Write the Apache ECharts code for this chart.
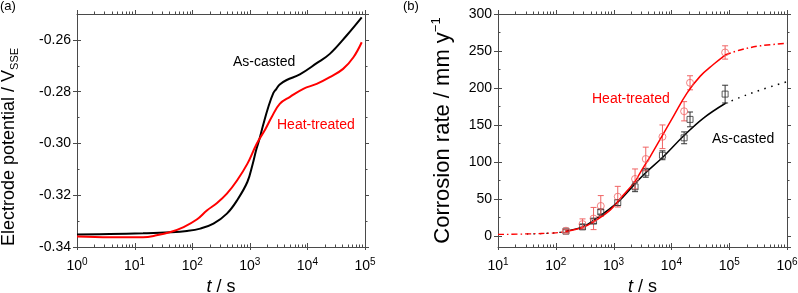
<!DOCTYPE html>
<html><head><meta charset="utf-8">
<script src="https://cdn.jsdelivr.net/npm/echarts@6/dist/echarts.min.js"></script>
<style>html,body{margin:0;padding:0;background:#fff}#c{width:798px;height:293px}</style>
</head><body><div id="c"></div>
<script>
// ---------- Panel (a): electrode potential vs time ----------
const tA_cast = [1, 3.7, 14, 42, 81, 138, 234, 400, 600, 910, 1120, 1290, 1450, 1700, 2090, 2570, 2880, 3310, 4370, 7400, 14500, 24500, 48000, 87700];
const vA_cast = [-0.3352, -0.3350, -0.3347, -0.3343, -0.3338, -0.3329, -0.3310, -0.3271, -0.3220, -0.3148, -0.3080, -0.3025, -0.2988, -0.2930, -0.2860, -0.2805, -0.2790, -0.2772, -0.2755, -0.2733, -0.2690, -0.2654, -0.2583, -0.2513];
const tA_heat = [1, 3.7, 14, 24, 42, 71, 120, 182, 270, 400, 600, 910, 1320, 1860, 2400, 3310, 5000, 8500, 14500, 24500, 41700, 63000, 87700];
const vA_heat = [-0.3359, -0.3362, -0.3362, -0.3355, -0.3342, -0.3323, -0.3294, -0.3258, -0.3230, -0.3194, -0.3143, -0.3078, -0.3001, -0.2945, -0.2898, -0.2847, -0.2820, -0.2789, -0.2770, -0.2744, -0.2712, -0.2667, -0.2609];

// ---------- Panel (b): corrosion rate vs time ----------
const tB = [150, 290, 450, 600, 1180, 2350, 3600, 7000, 16600, 21000, 85000];
const rateCast = [6.4, 12.2, 20, 32.5, 45, 66.3, 85.3, 109, 132.6, 157.5, 191.7];
const errCast  = [2, 3, 3, 3, 4, 6.5, 6, 6, 8, 10, 12];
const rateHeat = [7, 16, 23.5, 40.5, 53, 77, 104, 134, 168.5, 207, 248];
const errHeat  = [2, 7, 15, 14, 14, 13.5, 16, 16, 13, 9.5, 9];

const fitHeatLowT  = [10, 31.6, 100, 150];
const fitHeatLow   = [2.0, 2.7, 4.2, 6.0];
const fitHeatT     = [150, 290, 450, 870, 1160, 2320, 2860, 3550, 4270, 6760, 10700, 18600, 31600, 53700, 85000];
const fitHeat      = [6.0, 11.4, 18.9, 34.8, 46, 73, 85, 97, 107, 134, 161, 193, 216, 232, 244.5];
const fitHeatHighT = [85000, 155000, 347000, 1000000];
const fitHeatHigh  = [244.5, 251.3, 257, 260.3];

const fitCastLowT  = [31.6, 100, 150];
const fitCastLow   = [2.6, 4.2, 6.4];
const fitCastT     = [150, 290, 450, 1160, 2320, 3550, 7240, 16200, 35500, 85000];
const fitCast      = [6.4, 12.2, 21, 45, 70, 85, 107, 135, 159, 179];
const fitCastHighT = [85000, 155000, 347000, 1000000];
const fitCastHigh  = [179, 187.3, 197.2, 208.4];

// ---------- styling ----------
const FONT = 'Liberation Sans, Arial, Helvetica, sans-serif';
const AX = '#4a4a4a';
const RED = '#ff0000';
const RED_PT = '#f06464';
const BLK_PT = '#333333';

const zip = (a, b) => a.map((x, i) => [x, b[i]]);
const supLabel = v => '10{s|' + Math.round(Math.log10(v)) + '}';
const tickRich = { s: { fontSize: 10, fontFamily: FONT, color: '#000', padding: [0, 0, 9, 0] } };

function logTickData(lo, hi) {
  const out = [];
  for (let e = lo; e < hi; e++) for (let m = 1; m < 10; m++) out.push([m * Math.pow(10, e), m === 1 ? 1 : 0]);
  out.push([Math.pow(10, hi), 1]);
  return out;
}
function tickSeries(xi, yi, lo, hi, yRef) {
  return {
    type: 'custom', xAxisIndex: xi, yAxisIndex: yi, silent: true, z: 10,
    data: logTickData(lo, hi),
    renderItem: (params, api) => {
      const cs = params.coordSys;
      const x = Math.round(api.coord([api.value(0), yRef])[0]) + 0.5;
      const major = api.value(1) === 1;
      const yb = cs.y + cs.height, yt = cs.y;
      const st = { stroke: AX, lineWidth: 1 };
      return { type: 'group', children: [
        { type: 'line', shape: { x1: x, y1: major ? yb + 3 : yb, x2: x, y2: yb - (major ? 4 : 2.5) }, style: st },
        { type: 'line', shape: { x1: x, y1: yt, x2: x, y2: yt - (major ? 4 : 2.5) }, style: st }
      ] };
    }
  };
}
function errSeries(xi, yi, t, v, e, color) {
  return {
    type: 'custom', xAxisIndex: xi, yAxisIndex: yi, z: 3,
    data: t.map((x, i) => [x, v[i] - e[i], v[i] + e[i]]),
    encode: { x: 0, y: [1, 2] },
    renderItem: (params, api) => {
      const lo = api.coord([api.value(0), api.value(1)]);
      const hi = api.coord([api.value(0), api.value(2)]);
      const w = 3, st = { stroke: color, lineWidth: 1 };
      return { type: 'group', children: [
        { type: 'line', shape: { x1: lo[0], y1: lo[1], x2: hi[0], y2: hi[1] }, style: st },
        { type: 'line', shape: { x1: lo[0] - w, y1: lo[1], x2: lo[0] + w, y2: lo[1] }, style: st },
        { type: 'line', shape: { x1: hi[0] - w, y1: hi[1], x2: hi[0] + w, y2: hi[1] }, style: st }
      ] };
    }
  };
}
function xAxes(grid, min, max) {
  return [
    { type: 'log', logBase: 10, gridIndex: grid, position: 'bottom', min, max,
      axisLine: { onZero: false, lineStyle: { color: AX } }, axisTick: { show: false }, splitLine: { show: false },
      axisLabel: { formatter: supLabel, rich: tickRich, color: '#000', fontSize: 14, fontFamily: FONT, margin: 10 },
      name: '{i|t} / s', nameLocation: 'middle', nameGap: 30,
      nameTextStyle: { fontSize: 18, fontFamily: FONT, color: '#000', rich: { i: { fontStyle: 'italic', fontSize: 18, fontFamily: FONT, color: '#000' } } } },
    { type: 'log', logBase: 10, gridIndex: grid, position: 'top', min, max,
      axisLine: { onZero: false, lineStyle: { color: AX } }, axisTick: { show: false }, axisLabel: { show: false }, splitLine: { show: false } }
  ];
}
function yAxes(grid, min, max, extra, label) {
  const base = { type: 'value', gridIndex: grid, min, max, splitLine: { show: false } };
  return [
    Object.assign({}, base, extra, {
      position: 'left',
      axisLine: { show: true, onZero: false, lineStyle: { color: AX } },
      axisTick: { show: true, inside: false, length: 4, lineStyle: { color: AX } },
      axisLabel: Object.assign({ color: '#000', fontSize: 14, fontFamily: FONT, margin: 6 }, label)
    }),
    Object.assign({}, base, extra, {
      position: 'left',
      axisLine: { show: false, onZero: false },
      axisTick: { show: true, inside: true, length: 4, lineStyle: { color: AX } },
      minorTick: { show: true, splitNumber: 2, length: 2.5, lineStyle: { color: AX } },
      axisLabel: { show: false }
    }),
    Object.assign({}, base, extra, {
      position: 'right',
      axisLine: { show: true, onZero: false, lineStyle: { color: AX } },
      axisTick: { show: true, inside: false, length: 4, lineStyle: { color: AX } },
      minorTick: { show: true, splitNumber: 2, length: 2.5, lineStyle: { color: AX } },
      axisLabel: { show: false }
    })
  ];
}

const yA = yAxes(0, -0.34, -0.25, { interval: 0.02 }, { formatter: v => v.toFixed(2), showMinLabel: true, showMaxLabel: false });
yA[0].name = '{n|Electrode potential / V}{b|SSE}';
yA[0].nameLocation = 'middle';
yA[0].nameGap = 57;
yA[0].nameTextStyle = { fontSize: 18, fontFamily: FONT, color: '#000', padding: [0, 33, 0, 0],
  rich: { n: { fontSize: 18, fontFamily: FONT, color: '#000' }, b: { fontSize: 11, fontFamily: FONT, color: '#000', padding: [10, 0, 0, 0] } } };

const yB = yAxes(1, -15, 300, { splitNumber: 6 }, { showMinLabel: false, showMaxLabel: true });
yB[0].name = '{n|Corrosion rate / mm y}{p|\u22121}';
yB[0].nameLocation = 'middle';
yB[0].nameGap = 43;
yB[0].nameTextStyle = { fontSize: 22, fontFamily: FONT, color: '#000',
  rich: { n: { fontSize: 22, fontFamily: FONT, color: '#000' }, p: { fontSize: 13, fontFamily: FONT, color: '#000', padding: [0, 0, 12, 0] } } };

const lineS = (xi, yi, data, color, width, type, z) => ({
  type: 'line', xAxisIndex: xi, yAxisIndex: yi, data, smooth: 0.4, showSymbol: false, symbol: 'none',
  lineStyle: { color, width, type: type || 'solid' }, z: z || 2, silent: true
});

const option = {
  animation: false,
  backgroundColor: '#fff',
  textStyle: { fontFamily: FONT },
  grid: [
    { left: 77, top: 14, width: 288, height: 233, containLabel: false, outerBoundsMode: 'none' },
    { left: 498, top: 14, width: 289, height: 233, containLabel: false, outerBoundsMode: 'none' }
  ],
  xAxis: [...xAxes(0, 1, 100000), ...xAxes(1, 10, 1000000)],
  yAxis: [...yA, ...yB],
  series: [
    tickSeries(0, 0, 0, 5, -0.34),
    tickSeries(2, 3, 1, 6, 0),
    lineS(0, 0, zip(tA_cast, vA_cast), '#000', 2),
    lineS(0, 0, zip(tA_heat, vA_heat), RED, 2),

    lineS(2, 3, zip(fitCastLowT, fitCastLow), '#000', 1.3, [1.5, 5]),
    lineS(2, 3, zip(fitCastT, fitCast), '#000', 1.5),
    lineS(2, 3, zip(fitCastHighT, fitCastHigh), '#000', 1.5, [1.5, 5.5]),
    lineS(2, 3, zip(fitHeatLowT, fitHeatLow), RED, 1.3, [6, 3, 1.5, 3], 4),
    lineS(2, 3, zip(fitHeatT, fitHeat), RED, 1.5, 'solid', 4),
    lineS(2, 3, zip(fitHeatHighT, fitHeatHigh), RED, 1.5, [6, 3, 1.5, 3], 4),

    errSeries(2, 3, tB, rateCast, errCast, BLK_PT),
    errSeries(2, 3, tB, rateHeat, errHeat, RED_PT),
    { type: 'scatter', xAxisIndex: 2, yAxisIndex: 3, data: zip(tB, rateCast), symbol: 'rect', symbolSize: 6,
      itemStyle: { color: 'transparent', borderColor: BLK_PT, borderWidth: 1 }, z: 5 },
    { type: 'scatter', xAxisIndex: 2, yAxisIndex: 3, data: zip(tB, rateHeat), symbol: 'circle', symbolSize: 7,
      itemStyle: { color: 'transparent', borderColor: RED_PT, borderWidth: 1 }, z: 5 }
  ],
  graphic: [
    { type: 'text', left: 0, top: 0, style: { text: '(a)', fontSize: 13, fontFamily: FONT, fill: '#000' } },
    { type: 'text', left: 403, top: 0, style: { text: '(b)', fontSize: 13, fontFamily: FONT, fill: '#000' } },
    { type: 'text', x: 233, y: 62, style: { text: 'As-casted', fontSize: 14, fontFamily: FONT, fill: '#000', verticalAlign: 'middle' } },
    { type: 'text', x: 277, y: 125, style: { text: 'Heat-treated', fontSize: 14, fontFamily: FONT, fill: RED, verticalAlign: 'middle' } },
    { type: 'text', x: 592, y: 99, style: { text: 'Heat-treated', fontSize: 14, fontFamily: FONT, fill: RED, verticalAlign: 'middle' } },
    { type: 'text', x: 712, y: 139, style: { text: 'As-casted', fontSize: 14, fontFamily: FONT, fill: '#000', verticalAlign: 'middle' } }
  ]
};
const chart = echarts.init(document.getElementById('c'), null, { renderer: 'canvas' });
chart.setOption(option);
</script>
</body></html>
